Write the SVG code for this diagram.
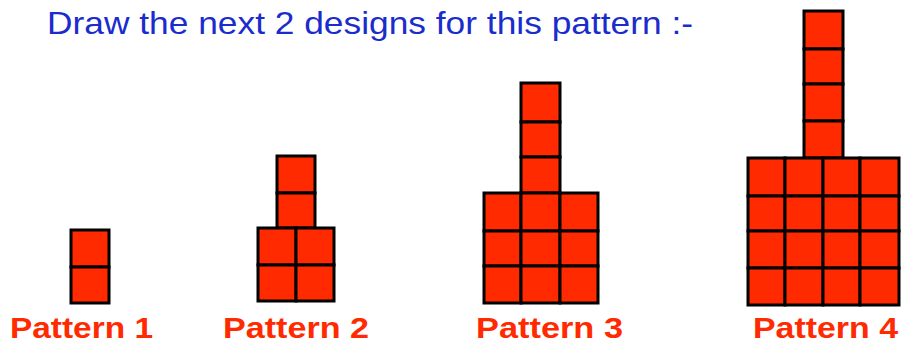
<svg xmlns="http://www.w3.org/2000/svg" width="901" height="343" viewBox="0 0 901 343">
<style>
.c{fill:#ff2a00;stroke:#000;stroke-width:3}
.t{font-family:"Liberation Sans",Arial,sans-serif;font-size:32px;fill:#1a2ccc}
.l{font-family:"Liberation Sans",Arial,sans-serif;font-size:30px;font-weight:bold;fill:#ff2a00}
</style>
<rect width="901" height="343" fill="#fff"/>
<text class="t" x="47" y="34" textLength="646" lengthAdjust="spacingAndGlyphs">Draw the next 2 designs for this pattern :-</text>
<g id="pattern1">
<rect class="c" x="71" y="230" width="38" height="37"/>
<rect class="c" x="71" y="267" width="38" height="36"/>
</g>
<g id="pattern2">
<rect class="c" x="277" y="156" width="38" height="37"/>
<rect class="c" x="277" y="193" width="38" height="35"/>
<rect class="c" x="258" y="228" width="38" height="37"/>
<rect class="c" x="296" y="228" width="38" height="37"/>
<rect class="c" x="258" y="265" width="38" height="36"/>
<rect class="c" x="296" y="265" width="38" height="36"/>
</g>
<g id="pattern3">
<rect class="c" x="521" y="83" width="39" height="39"/>
<rect class="c" x="521" y="122" width="39" height="35"/>
<rect class="c" x="521" y="157" width="39" height="36"/>
<rect class="c" x="484" y="193" width="37" height="38"/>
<rect class="c" x="521" y="193" width="39" height="38"/>
<rect class="c" x="560" y="193" width="38" height="38"/>
<rect class="c" x="484" y="231" width="37" height="35"/>
<rect class="c" x="521" y="231" width="39" height="35"/>
<rect class="c" x="560" y="231" width="38" height="35"/>
<rect class="c" x="484" y="266" width="37" height="37"/>
<rect class="c" x="521" y="266" width="39" height="37"/>
<rect class="c" x="560" y="266" width="38" height="37"/>
</g>
<g id="pattern4">
<rect class="c" x="804" y="11" width="39" height="38"/>
<rect class="c" x="804" y="49" width="39" height="35"/>
<rect class="c" x="804" y="84" width="39" height="37"/>
<rect class="c" x="804" y="121" width="39" height="37"/>
<rect class="c" x="748" y="158" width="37" height="38"/>
<rect class="c" x="785" y="158" width="38" height="38"/>
<rect class="c" x="823" y="158" width="37" height="38"/>
<rect class="c" x="860" y="158" width="39" height="38"/>
<rect class="c" x="748" y="196" width="37" height="35"/>
<rect class="c" x="785" y="196" width="38" height="35"/>
<rect class="c" x="823" y="196" width="37" height="35"/>
<rect class="c" x="860" y="196" width="39" height="35"/>
<rect class="c" x="748" y="231" width="37" height="37"/>
<rect class="c" x="785" y="231" width="38" height="37"/>
<rect class="c" x="823" y="231" width="37" height="37"/>
<rect class="c" x="860" y="231" width="39" height="37"/>
<rect class="c" x="748" y="268" width="37" height="37"/>
<rect class="c" x="785" y="268" width="38" height="37"/>
<rect class="c" x="823" y="268" width="37" height="37"/>
<rect class="c" x="860" y="268" width="39" height="37"/>
</g>
<text class="l" x="10" y="338" textLength="143" lengthAdjust="spacingAndGlyphs">Pattern 1</text>
<text class="l" x="223" y="338" textLength="146" lengthAdjust="spacingAndGlyphs">Pattern 2</text>
<text class="l" x="476" y="338" textLength="147" lengthAdjust="spacingAndGlyphs">Pattern 3</text>
<text class="l" x="753" y="338" textLength="145" lengthAdjust="spacingAndGlyphs">Pattern 4</text>
</svg>
